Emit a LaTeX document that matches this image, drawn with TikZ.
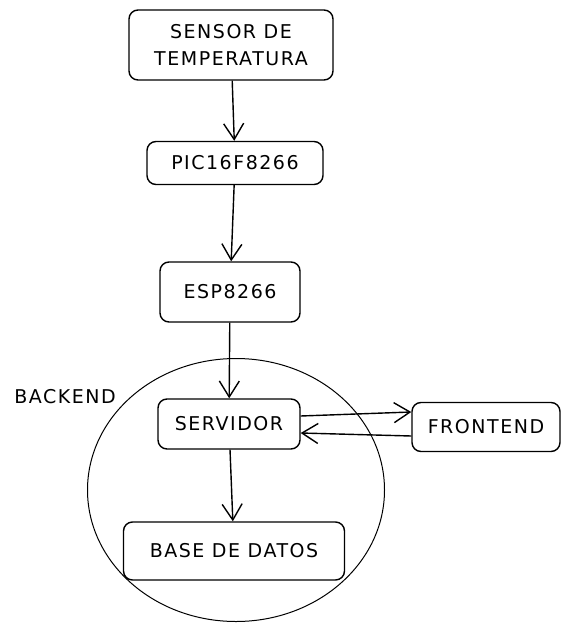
\documentclass[tikz,border=0pt]{standalone}
\usepackage{fontspec}
\setmainfont[LetterSpace=8]{DejaVu Sans}
\usetikzlibrary{arrows.meta, positioning, shapes.geometric}

\begin{document}
\begin{tikzpicture}[x=1pt, y=-1pt, font=\fontsize{19}{27}\selectfont, >={Straight Barb[length=16pt, width=20pt]},
  line width=1.4pt,
  box/.style={draw, rounded corners=9pt, inner sep=0pt, align=center, fill=white},
  flow/.style={->, line width=1.4pt}]
  \useasboundingbox (0,0) rectangle (561,623);
  % backend group
  \node[draw, ellipse, minimum width=297pt, minimum height=263pt, inner sep=0pt, line width=1pt] (backend) at (236,490) {};
  \node (backendlbl) at (65,397) {BACKEND};
  % boxes
  \node[box, minimum width=204pt, minimum height=70pt] (sensor) at (231,45) {SENSOR DE\\TEMPERATURA};
  \node[box, minimum width=176pt, minimum height=43pt] (pic) at (235,163) {PIC16F8266};
  \node[box, minimum width=140pt, minimum height=60pt] (esp) at (230,292) {ESP8266};
  \node[box, minimum width=142pt, minimum height=50pt] (srv) at (229,424) {SERVIDOR};
  \node[box, minimum width=148pt, minimum height=49pt] (front) at (486,427) {FRONTEND};
  \node[box, minimum width=221pt, minimum height=58pt] (db) at (234,551) {BASE DE DATOS};
  % connectors
  \draw[flow] (sensor) -- (pic);
  \draw[flow] (pic) -- (esp);
  \draw[flow] (esp) -- (srv);
  \draw[flow] ([yshift=8pt]srv.east) -- ([yshift=15pt]front.west);
  \draw[flow] ([yshift=-9pt]front.west) -- ([yshift=-9pt]srv.east);
  \draw[flow] (srv) -- (db);
\end{tikzpicture}
\end{document}
